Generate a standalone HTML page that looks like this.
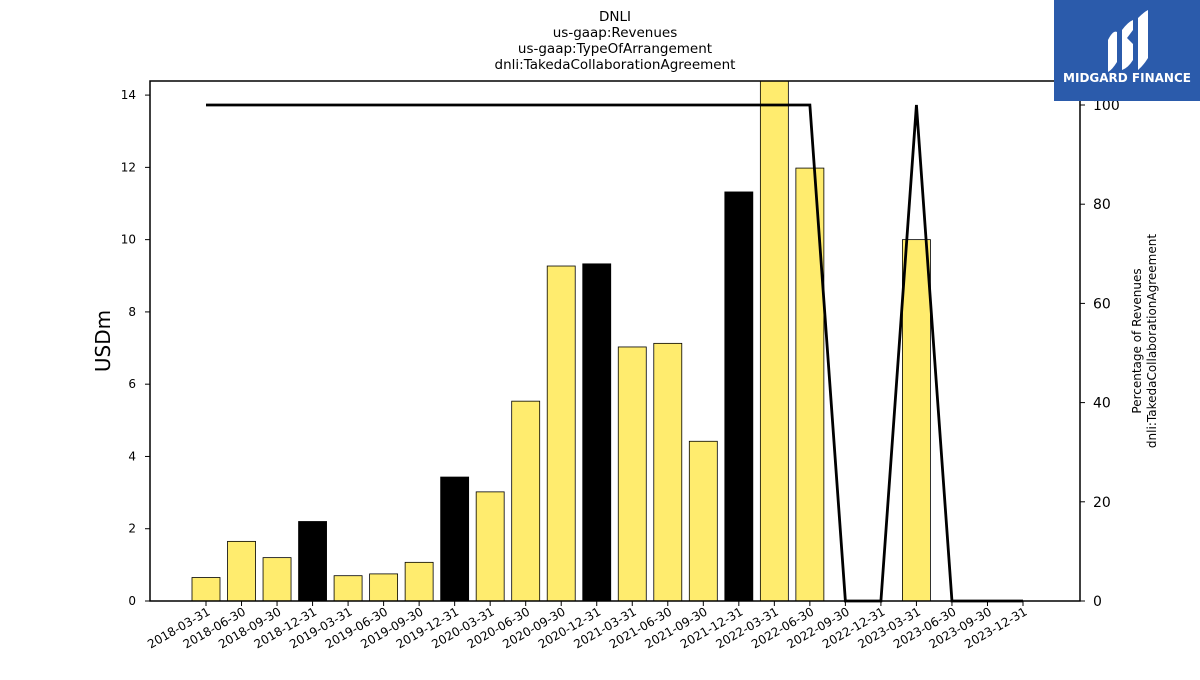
<!DOCTYPE html>
<html><head><meta charset="utf-8"><style>
body{margin:0;background:#fff;}
svg text{font-family:"DejaVu Sans","Liberation Sans",sans-serif;}
</style></head><body>
<svg id="chart" width="1200" height="675" xmlns="http://www.w3.org/2000/svg">
<g font-size="13.5" text-anchor="middle" fill="#000">
<text x="615" y="21">DNLI</text>
<text x="615" y="37">us-gaap:Revenues</text>
<text x="615" y="53">us-gaap:TypeOfArrangement</text>
<text x="615" y="69">dnli:TakedaCollaborationAgreement</text>
</g>
<g id="bars"></g>
<g id="line"></g>
<rect x="150" y="81" width="930" height="520" fill="none" stroke="#000" stroke-width="1.5"/>
<g id="xaxis"></g>
<g id="yaxis"></g>
<g id="y2axis"></g>
<text x="110" y="341" font-size="20" text-anchor="middle" transform="rotate(-90 110 341)">USDm</text>
<g font-size="12" text-anchor="middle">
<text transform="translate(1141,341) rotate(-90)">Percentage of Revenues</text>
<text transform="translate(1156,341) rotate(-90)">dnli:TakedaCollaborationAgreement</text>
</g>
<g>
<rect x="1054" y="0" width="146" height="101" fill="#2b5bab"/>
<path d="M1108 40 Q1113 30 1117 32 L1117 62 Q1112 70 1108 72 Z" fill="#fff"/>
<path d="M1122 30 Q1128 22 1133 20 L1133 30 L1127 38 L1133 44 L1133 60 Q1128 68 1122 70 Z" fill="#fff"/>
<path d="M1138 18 Q1144 12 1148 10 L1148 58 Q1143 66 1138 70 Z" fill="#fff"/>
<text x="1127" y="82" font-size="12" font-weight="bold" fill="#fff" text-anchor="middle">MIDGARD FINANCE</text>
</g>
</svg>
<script>
const categories=["2018-03-31","2018-06-30","2018-09-30","2018-12-31","2019-03-31","2019-06-30","2019-09-30","2019-12-31","2020-03-31","2020-06-30","2020-09-30","2020-12-31","2021-03-31","2021-06-30","2021-09-30","2021-12-31","2022-03-31","2022-06-30","2022-09-30","2022-12-31","2023-03-31","2023-06-30","2023-09-30","2023-12-31"];
const revenues=[0.65,1.65,1.2,2.2,0.7,0.75,1.07,3.43,3.02,5.53,9.27,9.33,7.03,7.13,4.42,11.32,15.0,11.98,0,0,10.0,0,0,0];
const percent=[100,100,100,100,100,100,100,100,100,100,100,100,100,100,100,100,100,100,0,0,100,0,0,0];
const yTicks=[0,2,4,6,8,10,12,14];
const y2Ticks=[0,20,40,60,80,100];
const NS="http://www.w3.org/2000/svg";
const X0=206,DX=(1023-206)/23,YB=601,YT=81,YMAX=14.39,Y2MAX=(601-81)/4.96;
const xs=i=>X0+i*DX;
const ys=v=>YB-(Math.min(v,YMAX))/YMAX*(YB-YT);
const y2=v=>YB-v/Y2MAX*(YB-YT);
function mk(t,a,p){const e=document.createElementNS(NS,t);for(const k in a)e.setAttribute(k,a[k]);p.appendChild(e);return e;}
const bars=document.getElementById('bars');
revenues.forEach((v,i)=>{if(v<=0)return;
const r=mk('rect',{x:xs(i)-14,y:ys(v),width:28,height:YB-ys(v),fill:categories[i].endsWith('12-31')?'#000':'#ffec6e',stroke:'#000','stroke-width':0.8},bars);

});
const line=document.getElementById('line');
const pl=mk('polyline',{points:percent.map((v,i)=>xs(i)+','+y2(v)).join(' '),fill:'none',stroke:'#000','stroke-width':2.8},line);


const xa=document.getElementById('xaxis');
categories.forEach((c,i)=>{const x=xs(i);
mk('line',{x1:x,y1:601,x2:x,y2:606,stroke:'#000'},xa);
const t=mk('text',{x:0,y:0,'font-size':12,'text-anchor':'end',transform:`translate(${x+5},${614}) rotate(-30)`},xa);
t.textContent=c;

});
const ya=document.getElementById('yaxis');
yTicks.forEach(v=>{const y=ys(v);
mk('line',{x1:145,y1:y,x2:150,y2:y,stroke:'#000'},ya);
const t=mk('text',{x:136,y:y+4,'font-size':12,'text-anchor':'end'},ya);
t.textContent=v;

});
const y2a=document.getElementById('y2axis');
y2Ticks.forEach(v=>{const y=y2(v);
mk('line',{x1:1080,y1:y,x2:1085,y2:y,stroke:'#000'},y2a);
const t=mk('text',{x:1093,y:y+5,'font-size':14},y2a);
t.textContent=v;

});
</script>
</body></html>
